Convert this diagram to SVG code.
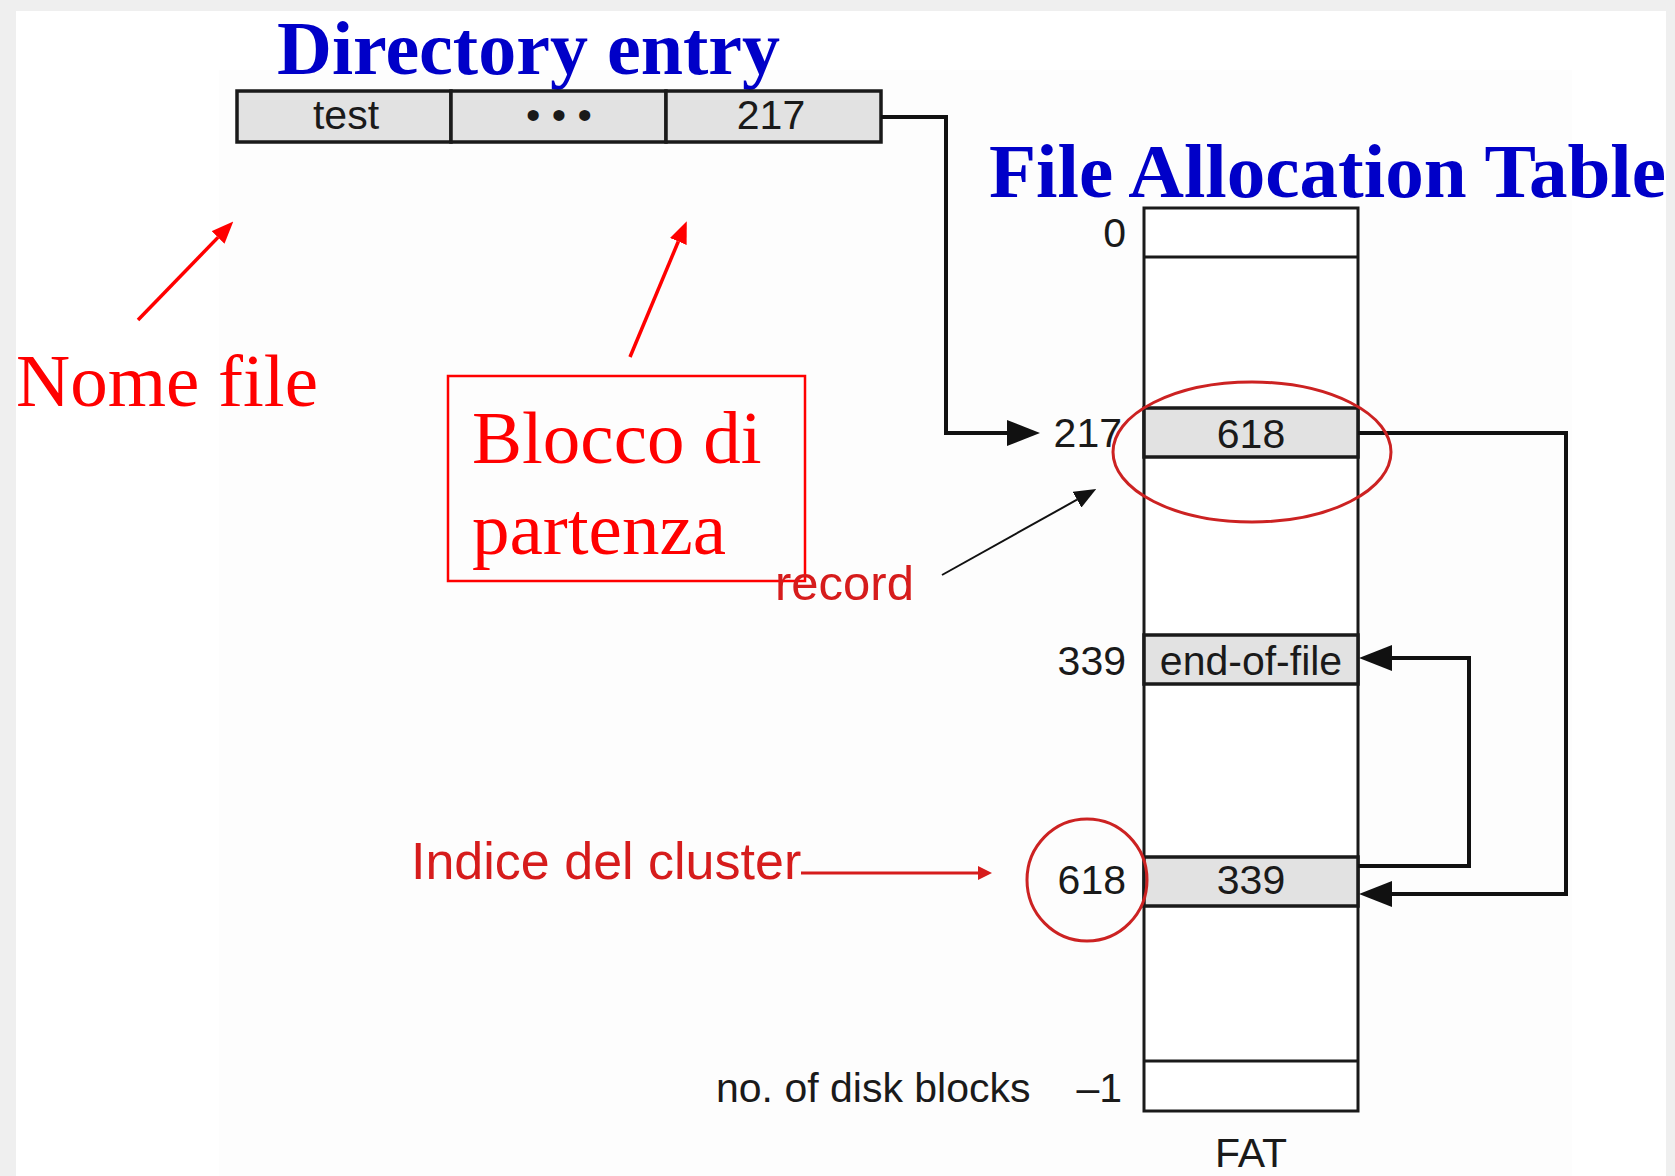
<svg xmlns="http://www.w3.org/2000/svg" width="1675" height="1176" viewBox="0 0 1675 1176">
<defs>
<style>
.title{font-family:"Liberation Serif","Times New Roman",serif;font-weight:bold;font-size:77px;fill:#0000c8}
.rserif{font-family:"Liberation Serif","Times New Roman",serif;font-size:75px;fill:#ff0000}
.lbl{font-family:"Liberation Sans",Arial,sans-serif;font-size:41px;fill:#1a1a1a}
.rlbl{font-family:"Liberation Sans",Arial,sans-serif;fill:#d61c1c}
.cell{fill:#e2e2e2;stroke:#1a1a1a;stroke-width:3.5}
.col{fill:#ffffff;stroke:#1a1a1a;stroke-width:3}
.conn{fill:none;stroke:#111;stroke-width:4}
.redline{fill:none;stroke:#ff0000;stroke-width:3.5}
.ring{fill:none;stroke:#cc2222;stroke-width:3}
</style>
<marker id="blk" viewBox="0 0 33 26" refX="0" refY="13" markerWidth="33" markerHeight="26" markerUnits="userSpaceOnUse" orient="auto">
<path d="M0,0 L33,13 L0,26 z" fill="#111"/>
</marker>
<marker id="red" viewBox="0 0 22 18" refX="0" refY="9" markerWidth="22" markerHeight="18" markerUnits="userSpaceOnUse" orient="auto">
<path d="M0,0 L22,9 L0,18 z" fill="#ff0000"/>
</marker>
<marker id="red2" viewBox="0 0 14 14" refX="0" refY="7" markerWidth="14" markerHeight="14" markerUnits="userSpaceOnUse" orient="auto">
<path d="M0,0 L14,7 L0,14 z" fill="#d61c1c"/>
</marker>
<marker id="thin" viewBox="0 0 22 18" refX="0" refY="9" markerWidth="22" markerHeight="18" markerUnits="userSpaceOnUse" orient="auto">
<path d="M0,0 L22,9 L0,18 z" fill="#111"/>
</marker>
</defs>

<g id="background">
<rect x="0" y="0" width="1675" height="1176" fill="#efefef"/>
<rect x="16" y="11" width="1650" height="1165" fill="#ffffff"/>
<rect x="219" y="70" width="1353" height="1106" fill="#fdfdfd"/>
</g>

<g id="title-directory">
<text class="title" x="277" y="74" textLength="503" lengthAdjust="spacingAndGlyphs">Directory entry</text>
</g>
<g id="title-fat">
<text class="title" x="989" y="197" textLength="677" lengthAdjust="spacingAndGlyphs">File Allocation Table</text>
</g>

<g id="directory-entry">
<rect class="cell" x="237" y="91" width="214" height="51"/>
<rect class="cell" x="451" y="91" width="215" height="51"/>
<rect class="cell" x="666" y="91" width="215" height="51"/>
<text class="lbl" x="346" y="129" text-anchor="middle">test</text>
<text class="lbl" x="559" y="129" text-anchor="middle">• • •</text>
<text class="lbl" x="771" y="129" text-anchor="middle">217</text>
</g>

<g id="fat">
<rect class="col" x="1144" y="208" width="214" height="903"/>
<line x1="1144" y1="257" x2="1358" y2="257" stroke="#1a1a1a" stroke-width="3"/>
<rect class="cell" x="1144" y="408" width="214" height="49" stroke-width="3"/>
<rect class="cell" x="1144" y="635" width="214" height="49" stroke-width="3"/>
<rect class="cell" x="1144" y="857" width="214" height="49" stroke-width="3"/>
<line x1="1144" y1="1061" x2="1358" y2="1061" stroke="#1a1a1a" stroke-width="3"/>
<text class="lbl" x="1251" y="448" text-anchor="middle">618</text>
<text class="lbl" x="1251" y="675" text-anchor="middle">end-of-file</text>
<text class="lbl" x="1251" y="894" text-anchor="middle">339</text>
<text class="lbl" x="1251" y="1167" text-anchor="middle">FAT</text>
</g>

<g id="fat-indices">
<text class="lbl" x="1126" y="247" text-anchor="end">0</text>
<text class="lbl" x="1122" y="447" text-anchor="end">217</text>
<text class="lbl" x="1126" y="675" text-anchor="end">339</text>
<text class="lbl" x="1126" y="894" text-anchor="end">618</text>
<text class="lbl" x="1122" y="1102" text-anchor="end">–1</text>
<text class="lbl" x="716" y="1102">no. of disk blocks</text>
</g>

<g id="connectors">
<path class="conn" d="M881 117 H946 V433 H1007" marker-end="url(#blk)"/>
<path class="conn" d="M1358 433 H1566 V894 H1392" marker-end="url(#blk)"/>
<path class="conn" d="M1358 866 H1469 V658 H1392" marker-end="url(#blk)"/>
<path d="M942 575 L1077 499.7" fill="none" stroke="#111" stroke-width="2" marker-end="url(#thin)"/>
<path class="redline" d="M138 320 L218 237.4" marker-end="url(#red)"/>
<path class="redline" d="M630 357 L678.3 241.5" marker-end="url(#red)"/>
<path d="M801 873 H978" fill="none" stroke="#d61c1c" stroke-width="3" marker-end="url(#red2)"/>
</g>

<g id="highlight-record">
<ellipse class="ring" cx="1252" cy="452" rx="139" ry="70"/>
</g>
<g id="highlight-index">
<ellipse class="ring" cx="1087" cy="880" rx="60" ry="61"/>
</g>

<g id="label-nome-file">
<text class="rserif" x="16" y="406">Nome file</text>
</g>

<g id="label-blocco">
<rect x="448" y="376" width="357" height="205" fill="none" stroke="#ff0000" stroke-width="2.5"/>
<text class="rserif" x="472" y="463">Blocco di</text>
<text class="rserif" x="472" y="554">partenza</text>
</g>

<g id="label-record">
<text class="rlbl" x="775" y="600" font-size="49">record</text>
</g>

<g id="label-indice">
<text class="rlbl" x="411" y="879" font-size="52">Indice del cluster</text>
</g>
</svg>
